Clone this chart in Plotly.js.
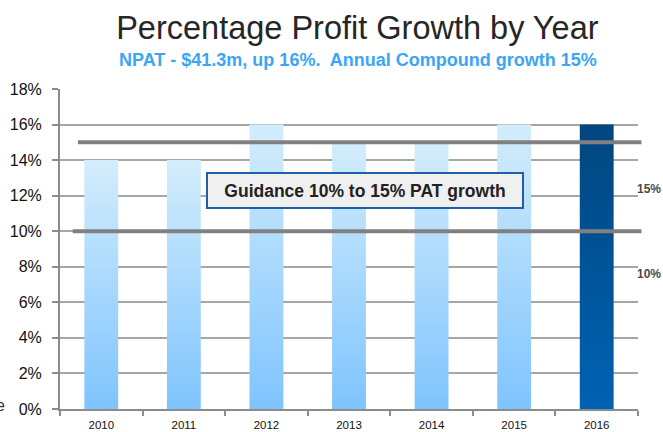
<!DOCTYPE html>
<html>
<head>
<meta charset="utf-8">
<script src="https://cdn.plot.ly/plotly-3.0.1.min.js"></script>
<style>
html,body{margin:0;padding:0;background:#fff;overflow:hidden;}
#chart{width:663px;height:432px;}
</style>
</head>
<body>
<div id="chart"></div>
<script>
// ---- data ----
const years = ["2010", "2011", "2012", "2013", "2014", "2015", "2016"];
const growth = [14, 14, 16, 15, 15, 16, 16];
const guidanceLow = 10;
const guidanceHigh = 15;
const yTickVals = [0, 2, 4, 6, 8, 10, 12, 14, 16, 18];
const yTickText = ["0%", "2%", "4%", "6%", "8%", "10%", "12%", "14%", "16%", "18%"];
const titleText = "Percentage Profit Growth by Year";
const subtitleText = "NPAT - $41.3m, up 16%.  Annual Compound growth 15%";
const guidanceText = "Guidance 10% to 15% PAT growth";

const font = "Liberation Sans, Arial, sans-serif";
const barColors = years.map((y, i) => i === years.length - 1 ? "#0058a3" : "#a8d8fd");

const trace = {
  type: "bar",
  x: years,
  y: growth,
  width: 0.41,
  marker: {color: barColors, line: {width: 0}},
  hoverinfo: "none"
};

const layout = {
  width: 663, height: 432,
  margin: {l: 60, r: 25, t: 89, b: 23},
  paper_bgcolor: "#ffffff",
  plot_bgcolor: "#ffffff",
  showlegend: false,
  font: {family: font, color: "#111"},
  title: {
    text: titleText,
    font: {family: font, size: 32.5, color: "#262626"},
    x: 0.539, xanchor: "center",
    y: 0.936, yanchor: "middle"
  },
  xaxis: {
    type: "category",
    range: [-0.5, 6.5],
    showgrid: false,
    showline: true, linecolor: "#8c8c8c", linewidth: 2,
    ticks: "outside", tickson: "boundaries", ticklen: 5, tickwidth: 2, tickcolor: "#8c8c8c",
    tickfont: {family: font, size: 11.5, color: "#111"},
    ticklabelstandoff: 4,
    zeroline: false
  },
  yaxis: {
    range: [0, 18],
    tickvals: yTickVals, ticktext: yTickText,
    showgrid: true, gridcolor: "#a6a6a6", gridwidth: 2,
    showline: true, linecolor: "#8c8c8c", linewidth: 2,
    ticks: "outside", ticklen: 6, tickwidth: 2, tickcolor: "#8c8c8c",
    tickfont: {family: font, size: 16, color: "#111"},
    ticklabelstandoff: 7,
    zeroline: false
  },
  shapes: [
    {type: "line", xref: "paper", yref: "y", x0: 0.031, x1: 1.006, y0: guidanceHigh, y1: guidanceHigh,
     line: {color: "#808080", width: 4}, layer: "above"},
    {type: "line", xref: "paper", yref: "y", x0: 0.022, x1: 1.006, y0: guidanceLow, y1: guidanceLow,
     line: {color: "#808080", width: 4}, layer: "above"}
  ],
  annotations: [
    {text: "<b>" + subtitleText + "</b>", xref: "paper", yref: "paper", x: 0.515, y: 1.09,
     xanchor: "center", yanchor: "middle", showarrow: false,
     font: {family: font, size: 18, color: "#3aa6f5"}},
    {text: "<b>" + guidanceText + "</b>", xref: "paper", yref: "y", x: 0.528, y: 12.3,
     xanchor: "center", yanchor: "middle", showarrow: false,
     font: {family: font, size: 17.5, color: "#222"},
     bgcolor: "#f0f0f0", bordercolor: "#1f5fa8", borderwidth: 2,
     width: 312, height: 31},
    {text: "<b>15%</b>", xref: "paper", yref: "y", x: 0.995, y: 12.4,
     xanchor: "left", yanchor: "middle", showarrow: false,
     font: {family: font, size: 12, color: "#4a4a4a"}},
    {text: "<b>10%</b>", xref: "paper", yref: "y", x: 0.995, y: 7.6,
     xanchor: "left", yanchor: "middle", showarrow: false,
     font: {family: font, size: 12, color: "#4a4a4a"}},
    {text: "e", xref: "paper", yref: "y", x: -0.092, y: 0.2,
     xanchor: "right", yanchor: "middle", showarrow: false,
     font: {family: font, size: 16, color: "#333"}}
  ]
};

Plotly.newPlot("chart", [trace], layout, {displayModeBar: false, staticPlot: true}).then(function(gd){
  const svg = gd.querySelector(".main-svg");
  let defs = svg.querySelector("defs");
  const ns = "http://www.w3.org/2000/svg";
  if (!defs) { defs = document.createElementNS(ns, "defs"); svg.insertBefore(defs, svg.firstChild); }
  function grad(id, top, bottom) {
    const g = document.createElementNS(ns, "linearGradient");
    g.setAttribute("id", id);
    g.setAttribute("x1", "0"); g.setAttribute("y1", "0");
    g.setAttribute("x2", "0"); g.setAttribute("y2", "1");
    [[0, top], [1, bottom]].forEach(function(s){
      const st = document.createElementNS(ns, "stop");
      st.setAttribute("offset", s[0]);
      st.setAttribute("stop-color", s[1]);
      g.appendChild(st);
    });
    defs.appendChild(g);
  }
  grad("gLight", "#d3edfc", "#7fc4fe");
  grad("gDark", "#00467f", "#0062b3");
  const paths = gd.querySelectorAll(".barlayer .point path");
  paths.forEach(function(p, i){
    p.style.fill = (i === paths.length - 1) ? "url(#gDark)" : "url(#gLight)";
  });
});
</script>
</body>
</html>
